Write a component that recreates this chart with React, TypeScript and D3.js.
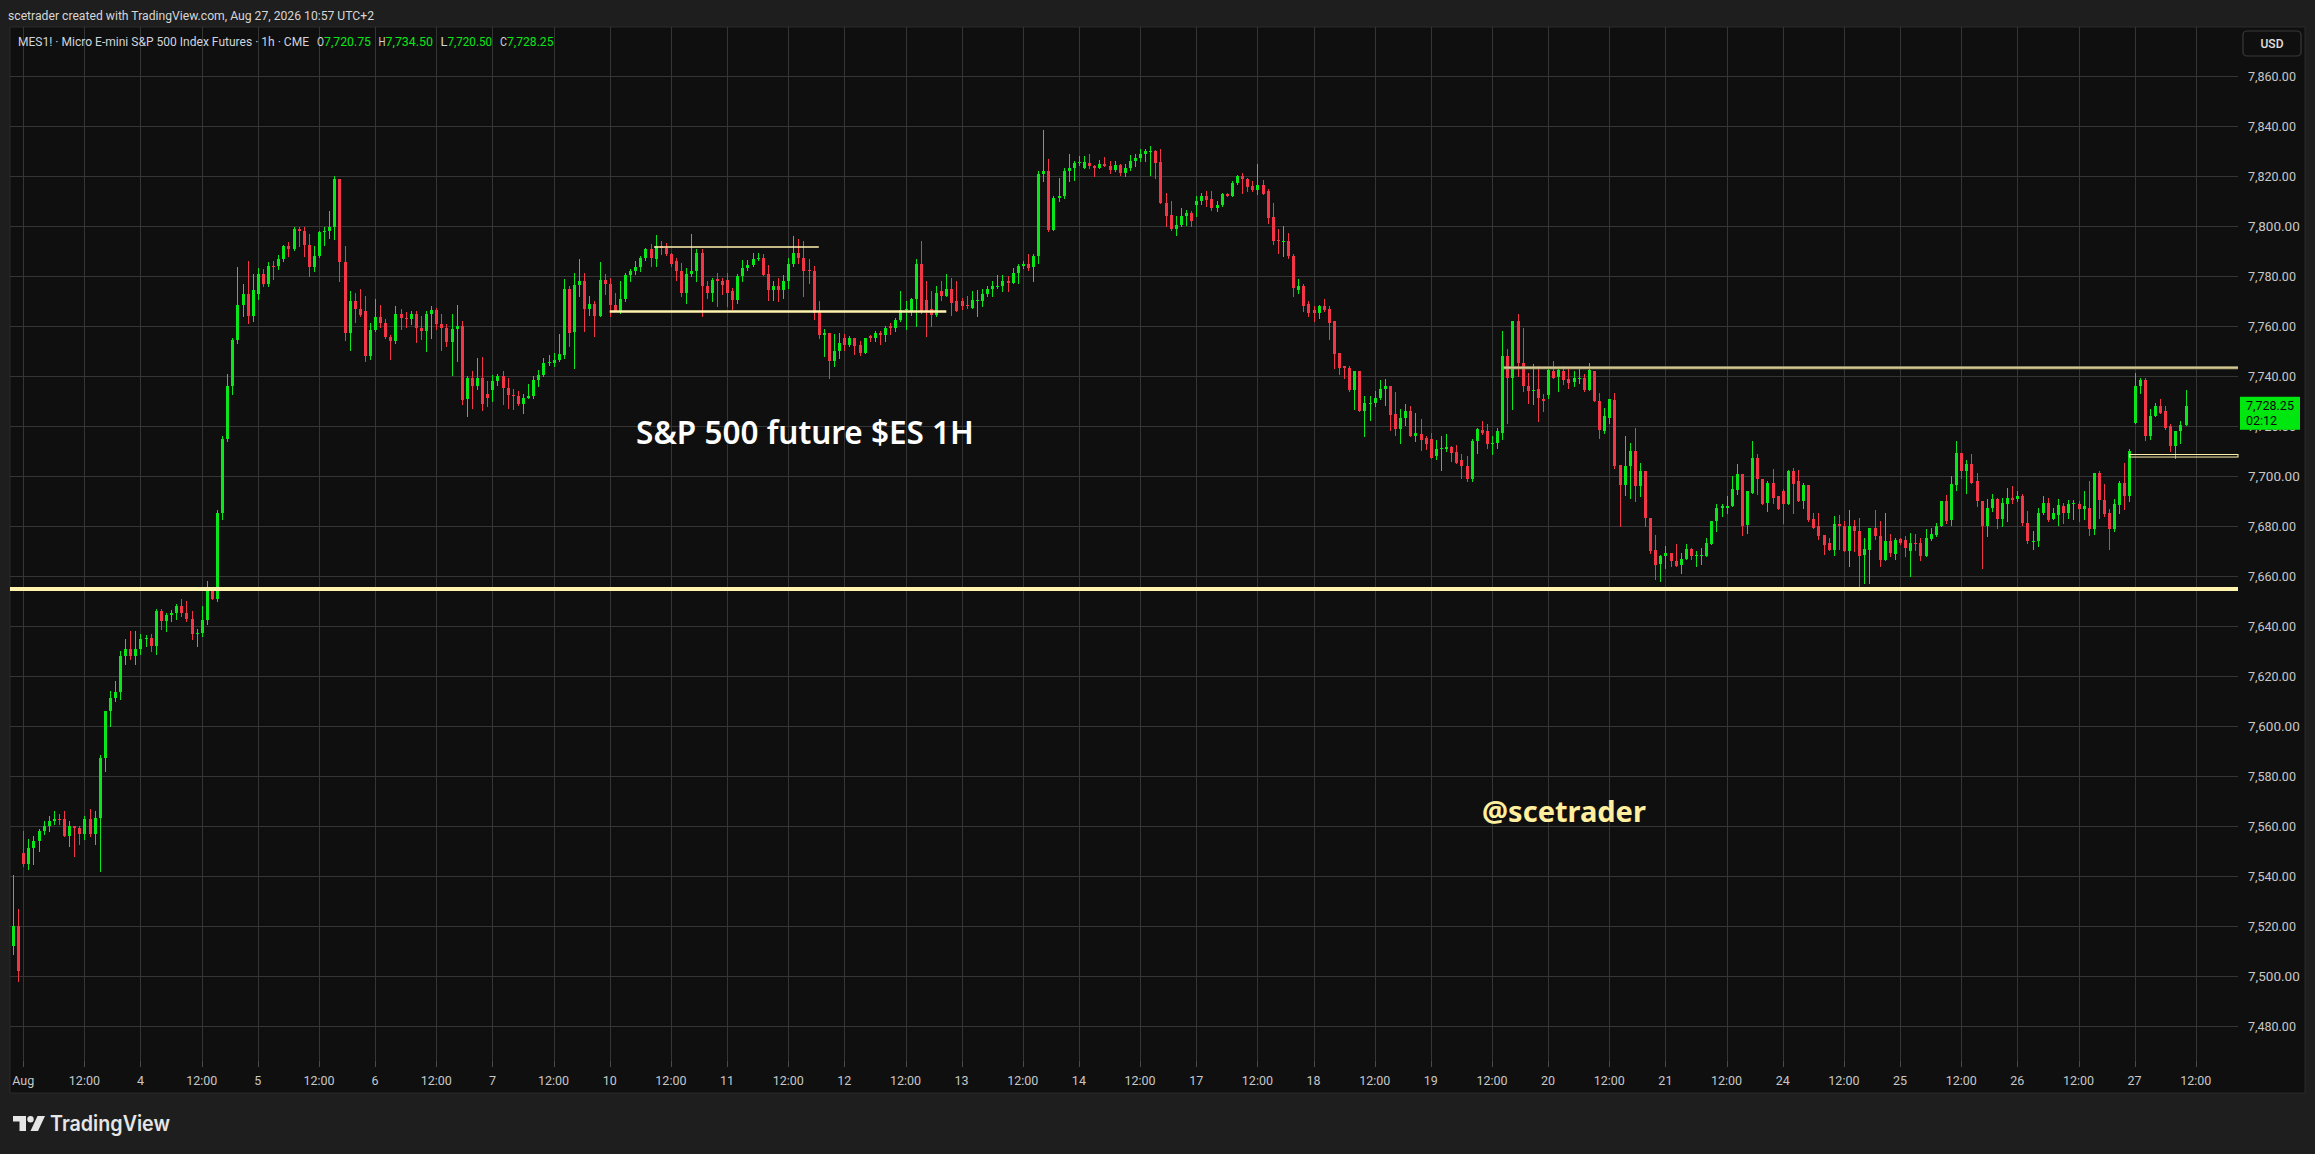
import React, { useEffect } from "react";
import * as d3 from "d3";

type Bar = [number, number, number, number]; // open, high, low, close

// ---- hourly OHLC (MES1!, 1h, UTC+2) ----
const jul31: Bar[] = [
  [7512, 7540.5, 7509, 7520], [7520, 7527, 7498, 7502],
];
const aug03: Bar[] = [
  [7549.5, 7558, 7544, 7545], [7545, 7555, 7543, 7551.5], [7551.5, 7556, 7545, 7554], [7554, 7559, 7550, 7558],
  [7558, 7562, 7557, 7560], [7560, 7564, 7558, 7562], [7562, 7566, 7561, 7563], [7563, 7565, 7561, 7562.5],
  [7563, 7566, 7556, 7556], [7556, 7562, 7552, 7560], [7560, 7560, 7548, 7559.5], [7559.5, 7560, 7553, 7557],
  [7557, 7564, 7555, 7563], [7563, 7567, 7556, 7557], [7557, 7566, 7553, 7563.5], [7563.5, 7588.5, 7542, 7587.5],
  [7587.5, 7606, 7582, 7606], [7606, 7614, 7600, 7611.5], [7611.5, 7618, 7610, 7613.75], [7613.75, 7630, 7611, 7628],
  [7628, 7635, 7625, 7631], [7631, 7638, 7627, 7628], [7628, 7638, 7625, 7631],
];
const aug04: Bar[] = [
  [7631, 7637, 7629, 7635], [7635, 7636.5, 7632, 7635.5], [7635.5, 7637, 7630, 7632], [7632, 7647, 7629, 7646],
  [7646, 7647, 7639, 7642], [7642, 7645.5, 7638, 7644.5], [7644.5, 7646.5, 7642, 7645.5], [7645.5, 7649, 7643, 7648],
  [7648, 7651, 7644, 7645.5], [7645.5, 7650, 7642, 7643], [7643, 7646, 7635, 7637], [7637, 7639, 7632, 7637.5],
  [7637.5, 7648, 7636, 7642.5], [7642.5, 7658, 7641, 7654], [7654, 7655.5, 7651, 7651], [7651, 7686.5, 7650, 7685.25],
  [7685.25, 7716, 7683, 7715], [7715, 7741, 7714, 7736], [7736, 7755.5, 7733, 7754.5], [7754.5, 7783.75, 7753.5, 7768.5],
  [7768.5, 7777, 7764, 7773], [7773, 7786, 7761.5, 7764], [7764, 7781, 7762, 7774.5],
];
const aug05: Bar[] = [
  [7773, 7783.5, 7771, 7781], [7781, 7783, 7776, 7777], [7777, 7785.75, 7776, 7784.25], [7784.25, 7786, 7779, 7784],
  [7784, 7788.75, 7783, 7787], [7787, 7792.75, 7786, 7792], [7792, 7793.75, 7788, 7791], [7791, 7799.75, 7790.5, 7799],
  [7799, 7799.75, 7792, 7798], [7798, 7799.75, 7788, 7792.75], [7792.75, 7797, 7780, 7783.75], [7783.75, 7792.25, 7782, 7788.25],
  [7788.25, 7798.25, 7787.75, 7797.75], [7797.75, 7799.75, 7792.5, 7798.25], [7798.25, 7806, 7795.5, 7799.75], [7799.75, 7820.25, 7795, 7819],
  [7819, 7819, 7778, 7785.75], [7785.75, 7792, 7754.5, 7757.5], [7757.5, 7774, 7750.75, 7770], [7770, 7773.25, 7761.75, 7767],
  [7767, 7775, 7764, 7764.75], [7766, 7772, 7746, 7748], [7748, 7761.5, 7747, 7758.5],
];
const aug06: Bar[] = [
  [7758.5, 7771, 7758, 7763.75], [7763.75, 7768.5, 7759.75, 7761.5], [7761.5, 7763, 7755.5, 7755.75], [7755.75, 7756.75, 7747, 7754],
  [7754, 7768, 7753.5, 7765], [7765, 7767, 7759, 7763.25], [7763.25, 7765.75, 7759.75, 7763], [7763, 7766, 7761, 7765],
  [7765, 7766, 7753.75, 7759.5], [7759.5, 7764, 7755, 7758], [7758, 7766, 7750, 7765], [7765, 7768, 7755.5, 7766.5],
  [7766.5, 7767.5, 7759, 7761], [7761, 7765, 7750.5, 7759.5], [7759.5, 7761, 7752, 7753.75], [7753.75, 7765, 7740.75, 7759],
  [7759, 7768.5, 7746, 7760], [7760, 7762, 7729, 7730.5], [7731, 7740, 7724, 7739.5], [7739.5, 7742, 7727.5, 7736],
  [7736, 7747.5, 7735, 7739.5], [7739.5, 7747.75, 7726.75, 7729], [7733, 7738, 7728, 7731.5],
];
const aug07: Bar[] = [
  [7734.75, 7740.5, 7730, 7738], [7738, 7741, 7736.75, 7740], [7740, 7742.25, 7729, 7735.5], [7735.5, 7739.25, 7727.25, 7732.75],
  [7732.75, 7735, 7727, 7732], [7732, 7734, 7728.5, 7729], [7729, 7733, 7725.5, 7731.5], [7731.5, 7737, 7731.5, 7732],
  [7732, 7740, 7731.5, 7738.5], [7738.5, 7742.75, 7736, 7740.5], [7740.5, 7747.5, 7740, 7745.5], [7745.5, 7748.75, 7744.75, 7745.75],
  [7745.5, 7749.5, 7744.25, 7746.75], [7746.5, 7757, 7746, 7749], [7748.5, 7779, 7747.5, 7775], [7775, 7776.25, 7752, 7757.25],
  [7757.75, 7781.25, 7743.5, 7776.5], [7776.5, 7787, 7772, 7778], [7778, 7781.25, 7758, 7767], [7767, 7772, 7764.75, 7769],
  [7769, 7770, 7756.25, 7764.25], [7764.25, 7785.75, 7764, 7778.5], [7778.5, 7781, 7773, 7777],
];
const aug10: Bar[] = [
  [7777, 7779.5, 7764, 7768.75], [7768.75, 7773.5, 7766.25, 7766.25], [7766.25, 7778, 7765.5, 7771], [7771, 7781.5, 7770, 7780.75],
  [7780.75, 7783, 7778, 7782], [7782, 7786, 7781, 7783.75], [7783.75, 7788.25, 7782.25, 7787.25], [7787.25, 7791.5, 7786.75, 7791],
  [7791, 7793, 7784.25, 7787.25], [7787, 7796.5, 7784, 7792], [7792, 7794.25, 7789, 7791.5], [7791.5, 7793.5, 7788.5, 7789],
  [7789, 7789.5, 7784.25, 7785], [7786, 7787.5, 7778.75, 7782], [7782, 7785.5, 7772, 7773.5], [7773.5, 7783.25, 7769.25, 7781],
  [7781, 7797, 7780.25, 7782], [7782, 7791, 7778.25, 7789.5], [7789.5, 7791, 7764, 7776], [7776, 7778.25, 7771.5, 7773.5],
  [7773.5, 7779.5, 7770, 7778.5], [7779, 7781.25, 7768, 7778], [7778, 7779.25, 7773, 7776.75],
];
const aug11: Bar[] = [
  [7778.5, 7781.25, 7768.25, 7773.25], [7774, 7775.25, 7767, 7770.75], [7770.5, 7781, 7769.5, 7780], [7780, 7786.5, 7778.25, 7783.25],
  [7783.25, 7786.75, 7782.5, 7784.75], [7784.75, 7789.25, 7784.25, 7787], [7787, 7789.5, 7786.5, 7787.25], [7787.25, 7789, 7780.75, 7780.75],
  [7781, 7784.5, 7770.75, 7774.5], [7774.5, 7778.25, 7770.75, 7776], [7776, 7779.25, 7770.25, 7774.5], [7774.5, 7780.5, 7771.25, 7778],
  [7778, 7787.5, 7775.25, 7785], [7785, 7796.25, 7784.25, 7789.25], [7789.25, 7795, 7785.25, 7787.25], [7787.5, 7794, 7772, 7782],
  [7782.5, 7787, 7777.5, 7782], [7782, 7784.25, 7763, 7765.5], [7766, 7770, 7755.5, 7756.5], [7756.5, 7759, 7748, 7757.5],
  [7757.5, 7757.5, 7739.5, 7746], [7746, 7757, 7744, 7750], [7750, 7757.5, 7747.25, 7753.25],
];
const aug12: Bar[] = [
  [7755.5, 7757, 7750.75, 7752.75], [7752.75, 7756.25, 7752, 7755.5], [7755.25, 7755.5, 7749, 7752], [7752.5, 7754.25, 7748.75, 7749.25],
  [7749.25, 7755.5, 7749.25, 7755.5], [7756, 7756.5, 7754, 7755.25], [7755.25, 7758.25, 7754.25, 7757.5], [7757.5, 7758, 7753, 7756.5],
  [7756.5, 7760.25, 7754.25, 7759.5], [7760, 7761.5, 7757, 7759.25], [7759.25, 7763.5, 7758.25, 7762.75], [7762.75, 7774, 7762, 7766.5],
  [7766.5, 7770.25, 7759, 7767], [7766, 7771.5, 7764.75, 7771], [7771, 7787, 7760.25, 7785], [7785, 7794, 7765.5, 7766],
  [7770.5, 7778, 7756.25, 7766], [7767, 7774.25, 7760.25, 7764.5], [7764.5, 7776, 7764.25, 7773.5], [7774, 7778, 7770.5, 7772.25],
  [7772.25, 7781, 7772.25, 7775], [7775, 7779.25, 7764.75, 7769.5], [7770, 7778.25, 7766.25, 7766.25],
];
const aug13: Bar[] = [
  [7770, 7771.25, 7767, 7768.25], [7768.75, 7772, 7767.25, 7768.5], [7767.5, 7774, 7767.5, 7770.5], [7770, 7774.75, 7764.25, 7770.5],
  [7770, 7775, 7768.25, 7773], [7773, 7776, 7772, 7775], [7775, 7778, 7772, 7776], [7776, 7780.5, 7775.25, 7776.25],
  [7776, 7780.5, 7774, 7778.25], [7778.25, 7780.25, 7774, 7777.5], [7777.5, 7783.25, 7777.5, 7781.25], [7781.25, 7785, 7777.5, 7784.25],
  [7784.25, 7786, 7783.25, 7785], [7785, 7789, 7782.75, 7783.25], [7783.75, 7789, 7778.25, 7788.25], [7788.25, 7822, 7785.5, 7821],
  [7821, 7838.5, 7818.25, 7822.25], [7822.25, 7827, 7798, 7798.5], [7798.5, 7812, 7798.5, 7811.5], [7811.5, 7819.25, 7810.25, 7812],
  [7812, 7823.5, 7811.5, 7822.25], [7822.25, 7829, 7818.25, 7823.25], [7823.25, 7826.25, 7818.75, 7825.5],
];
const aug14: Bar[] = [
  [7825.5, 7828, 7824.5, 7825.75], [7823.5, 7828.25, 7823.25, 7825.75], [7825.5, 7829, 7823.25, 7824], [7824, 7824.5, 7820.25, 7823.5],
  [7823.5, 7826.75, 7823.5, 7825], [7825, 7827.75, 7824, 7824], [7824, 7826, 7821.5, 7822.75], [7822.75, 7826, 7822, 7824.5],
  [7824.5, 7825, 7820.75, 7821.25], [7821.25, 7825, 7820.25, 7823.5], [7823.5, 7828.5, 7822.75, 7826], [7826, 7829, 7824.25, 7827.5],
  [7827.5, 7831, 7826, 7829], [7829, 7831, 7826.25, 7830], [7830, 7832.25, 7820.5, 7830.25], [7830.25, 7830.5, 7819.5, 7825.5],
  [7825.75, 7831, 7809.25, 7809.25], [7809.5, 7813.5, 7800.25, 7804.25], [7804.5, 7810, 7798.75, 7799], [7799, 7804, 7796.5, 7800.5],
  [7800.5, 7807.5, 7800, 7804], [7804, 7806.75, 7800.5, 7805.5], [7805.25, 7806, 7800.25, 7802],
];
const aug17: Bar[] = [
  [7808.5, 7812, 7804.25, 7810], [7810, 7813.5, 7809, 7812], [7812, 7814, 7808.25, 7810.5], [7811, 7814.25, 7806.75, 7807.25],
  [7807.25, 7810.25, 7806, 7808.5], [7808.5, 7813.25, 7808, 7813], [7813, 7813.5, 7812, 7812], [7812, 7818, 7812, 7817.5],
  [7817.5, 7820.75, 7817, 7820], [7820, 7821.25, 7813.25, 7819], [7819, 7819.5, 7814, 7815.75], [7816, 7818, 7814, 7814.5],
  [7814.5, 7825, 7813, 7816.5], [7816.5, 7818.5, 7813, 7813], [7814, 7815, 7801.25, 7803.5], [7803.75, 7809.5, 7793, 7794],
  [7794.5, 7799, 7789.25, 7794], [7794, 7800, 7788.25, 7794.25], [7794.25, 7797.5, 7787.5, 7788], [7788, 7789, 7772.25, 7775.25],
  [7774.75, 7779, 7773.25, 7776.25], [7776.25, 7777, 7766.25, 7768.25], [7769, 7770.25, 7764, 7765.25],
];
const aug18: Bar[] = [
  [7766.75, 7768.25, 7762.25, 7765.25], [7765.25, 7768.5, 7763.25, 7768.25], [7768, 7771, 7766.25, 7766.75], [7767, 7768, 7755, 7761.5],
  [7762, 7762.25, 7743.5, 7749], [7749.25, 7749.5, 7741, 7743.5], [7744, 7744, 7739.25, 7743.25], [7743.5, 7744, 7734.25, 7734.75],
  [7734.75, 7742.25, 7727, 7742], [7742, 7742, 7726, 7726], [7726.25, 7732, 7716.25, 7729.5], [7729.5, 7732, 7722.5, 7729.5],
  [7729.5, 7734.25, 7728.25, 7731.5], [7731.5, 7738.5, 7731, 7735], [7735, 7739, 7728.5, 7736], [7736, 7736.25, 7718.75, 7724.5],
  [7725, 7733.75, 7716.75, 7719], [7719, 7727, 7713.5, 7723.25], [7723.25, 7729, 7720.75, 7726.25], [7726.25, 7728, 7716, 7716],
  [7716, 7725.5, 7714.25, 7717.25], [7717, 7723, 7710.5, 7714.5], [7715.25, 7716.25, 7711, 7713],
];
const aug19: Bar[] = [
  [7715, 7717.25, 7707.25, 7707.25], [7708, 7714.75, 7707, 7711], [7711, 7716, 7702.5, 7711.25], [7711, 7717, 7710.25, 7711.75],
  [7711.75, 7712, 7706.25, 7709.5], [7709.75, 7712.5, 7705.5, 7705.5], [7706.75, 7709, 7699.5, 7704], [7704.25, 7708, 7698.25, 7699],
  [7699, 7715, 7698.25, 7714.25], [7714.25, 7719.25, 7709.25, 7719], [7718.5, 7722, 7717, 7717.5], [7718.25, 7721, 7711.25, 7713],
  [7713, 7716, 7709, 7713.5], [7713.5, 7719.5, 7711.25, 7718], [7717.25, 7758.25, 7715, 7748.25], [7748.25, 7751, 7721.25, 7739.5],
  [7739.5, 7762.25, 7727, 7762.25], [7762, 7765, 7740.25, 7745.5], [7745.5, 7759.5, 7734.25, 7736], [7736.25, 7741.25, 7729.25, 7734.25],
  [7734.5, 7745, 7729, 7734.75], [7735, 7744, 7722, 7731.25], [7731, 7733, 7726.25, 7730.25],
];
const aug20: Bar[] = [
  [7732.5, 7743.5, 7731.5, 7742.75], [7742.25, 7746, 7739.25, 7739.5], [7739.75, 7743, 7734.25, 7742.75], [7742.25, 7744, 7737, 7738.5],
  [7739, 7743.25, 7735.5, 7737.5], [7737.75, 7742, 7736.25, 7739.25], [7739, 7743, 7737.5, 7739.25], [7739.25, 7741, 7734.25, 7734.5],
  [7734.5, 7745.25, 7734.5, 7742.75], [7742, 7742, 7730, 7730], [7730, 7733.5, 7715.5, 7718.75], [7718.25, 7727.25, 7717.5, 7724],
  [7723.25, 7731, 7721.5, 7731], [7730.5, 7733.25, 7703.25, 7704], [7704.5, 7704.5, 7680.25, 7696.75], [7696.75, 7716.25, 7692.75, 7704],
  [7704, 7713.25, 7691.25, 7710.25], [7710.25, 7719.5, 7690.25, 7696.25], [7696.25, 7705.25, 7692, 7702], [7702, 7702, 7680.25, 7683.5],
  [7683.25, 7683.5, 7669.25, 7670], [7670.5, 7676.5, 7659, 7664.75], [7665, 7668.5, 7658, 7668.25],
];
const aug21: Bar[] = [
  [7668.25, 7672.25, 7663.25, 7669.25], [7669.25, 7669.25, 7664.25, 7666], [7666.25, 7673, 7664.25, 7664.25], [7664.75, 7669.25, 7661.25, 7667],
  [7667, 7673, 7667, 7671], [7671, 7671.5, 7667, 7668], [7668, 7670.25, 7664.25, 7668.5], [7668.75, 7671.25, 7665, 7668.75],
  [7668, 7675.25, 7668, 7673.25], [7673, 7682.25, 7673, 7682], [7682, 7689, 7678, 7687.5], [7687.5, 7689, 7684.25, 7688],
  [7687.5, 7692, 7685.5, 7688.25], [7688, 7700, 7688, 7695], [7694.75, 7705, 7693, 7701], [7701, 7701, 7676.75, 7680.25],
  [7680.5, 7694, 7677.5, 7694], [7693.5, 7714, 7693.5, 7707.25], [7707.25, 7709, 7693, 7699], [7699, 7699, 7689, 7689],
  [7689.25, 7698, 7686, 7697.5], [7697.25, 7703, 7689.25, 7691.25], [7692, 7692.25, 7687, 7687],
];
const aug24: Bar[] = [
  [7694, 7695, 7681.5, 7689], [7689, 7702.5, 7689, 7702.25], [7702.25, 7703.25, 7685.5, 7697], [7698, 7702.5, 7690.25, 7690.25],
  [7690.25, 7697.5, 7687.25, 7696.5], [7696.5, 7696.5, 7682.25, 7682.5], [7683, 7685.25, 7679.25, 7679.25], [7680, 7685.25, 7675, 7676],
  [7676.5, 7676.5, 7669, 7672.75], [7673.25, 7675.5, 7670.75, 7670.75], [7670.75, 7684, 7668.5, 7681], [7681, 7684.5, 7671, 7680],
  [7680, 7682.25, 7670, 7670], [7670, 7686.75, 7664.25, 7680.25], [7680, 7682.75, 7670, 7678], [7678, 7683.5, 7655, 7668.25],
  [7668.5, 7675.5, 7657.5, 7671], [7670.75, 7679.5, 7657.5, 7679.5], [7679.25, 7686.75, 7675, 7676], [7676, 7682.25, 7664.25, 7666.75],
  [7666.75, 7685.25, 7666.75, 7674], [7674, 7677, 7668.25, 7669.5], [7669, 7675.25, 7667, 7674.75],
];
const aug25: Bar[] = [
  [7675, 7675.5, 7673, 7673.5], [7674.5, 7676, 7668, 7671.25], [7670.25, 7677.5, 7660.25, 7673.5], [7673.5, 7677, 7670.75, 7673],
  [7673.25, 7675.25, 7666.75, 7668], [7668, 7679, 7668, 7675.25], [7675, 7679.25, 7674.75, 7677], [7676.5, 7681.25, 7676.25, 7680],
  [7680, 7690, 7680, 7690], [7690, 7692.5, 7681.25, 7682.25], [7682.5, 7700, 7680.75, 7697], [7696.75, 7714, 7694.75, 7709.25],
  [7709.25, 7709.5, 7699.5, 7702], [7702, 7706.5, 7693.25, 7705], [7705, 7709, 7697.25, 7697.25], [7698, 7701.25, 7688.25, 7690],
  [7690.25, 7690.25, 7663.25, 7680], [7680, 7691, 7676.25, 7687.5], [7687.5, 7693, 7686, 7691], [7691, 7691.5, 7679.25, 7683],
  [7683, 7691.25, 7680.25, 7689.25], [7689, 7695.25, 7682, 7691.25], [7691.25, 7696.25, 7689.25, 7690.5],
];
const aug26: Bar[] = [
  [7691, 7694, 7690.25, 7692.25], [7692.25, 7693, 7680.75, 7681.25], [7681.5, 7686, 7673.5, 7674], [7674, 7678.25, 7671, 7674.25],
  [7674, 7687.25, 7672.25, 7685.5], [7685.25, 7692.25, 7685, 7689.5], [7689.5, 7691.25, 7682.25, 7682.5], [7683, 7687.5, 7683, 7685.25],
  [7684.5, 7691, 7680.75, 7688.5], [7688.25, 7689.25, 7681.25, 7685.25], [7685.5, 7690.5, 7683.25, 7689], [7689, 7690.5, 7683, 7689.5],
  [7689, 7690.25, 7682, 7687], [7687, 7694.25, 7683, 7688], [7687.5, 7698.25, 7676.5, 7679], [7679, 7701.5, 7677, 7701.25],
  [7701.25, 7702.25, 7683.5, 7690.5], [7690.5, 7697, 7684.25, 7685], [7685.25, 7687, 7671, 7679], [7679, 7691, 7678, 7689],
  [7688.75, 7698.25, 7685.5, 7697.25], [7697.25, 7705.25, 7687, 7692], [7692, 7711, 7690.25, 7710],
];
const aug27: Bar[] = [
  [7721.5, 7741.25, 7721.25, 7736], [7736, 7739.25, 7733.25, 7738.75], [7738.75, 7739.25, 7714.75, 7716], [7716, 7727, 7715, 7724.25],
  [7724.25, 7729.5, 7724, 7728.25], [7728.25, 7731, 7725.25, 7725.5], [7726.25, 7728, 7719, 7719.25], [7720.25, 7721, 7710.25, 7712],
  [7712, 7718, 7707.25, 7718], [7718, 7722, 7713.5, 7720.5], [7720.75, 7734.5, 7720.5, 7728.25],
];

const sessions: Bar[][] = [aug03, aug04, aug05, aug06, aug07, aug10, aug11, aug12, aug13, aug14,
  aug17, aug18, aug19, aug20, aug21, aug24, aug25, aug26, aug27];
const dayLabels = ["Aug", "4", "5", "6", "7", "10", "11", "12", "13", "14", "17", "18", "19", "20", "21", "24", "25", "26", "27"];
const priceTicks = [7480, 7500, 7520, 7540, 7560, 7580, 7600, 7620, 7640, 7660, 7680, 7700, 7720, 7740, 7760, 7780, 7800, 7820, 7840, 7860];

// drawn levels: price, from bar, to bar (null = right edge)
const supportLevel = 7655;
const rangeTop: [number, number, number] = [7791.75, 125.7, 158];
const rangeBottom: [number, number, number] = [7766, 117, 183];
const resistanceLevel: [number, number] = [7743.5, 292.3];
const lastBox: [number, number, number] = [7708.75, 7707.75, 415];

const headerText = "scetrader created with TradingView.com, Aug 27, 2026 10:57 UTC+2";
const symbolText = "MES1! · Micro E-mini S&P 500 Index Futures · 1h · CME";
const countdown = "02:12";
const titleText = "S&P 500 future $ES 1H";
const signature = "@scetrader";

const bars: Bar[] = [...jul31, ...sessions.flat()];

const W = 2315, H = 1154;
const paneL = 10, paneR = 2305, paneT = 27, paneB = 1093;
const plotR = 2238, plotB = 1061;
const STEP = 5.1;
const GREEN = "#0ae61a";
const RED = "#f23645";
const GRID = "#353535";
const YEL = "#fff3ad";
const FONT = "Roboto, 'Noto Sans', sans-serif";

const x = d3.scaleLinear().domain([0, bars.length - 1]).range([13, 13 + (bars.length - 1) * STEP]);
const y = d3.scaleLinear().domain([7480, 7860]).range([1026.4, 76.4]);
const fmt = d3.format(",.2f");

const timeTicks: { i: number; label: string; day: boolean }[] = [];
{
  let start = jul31.length;
  sessions.forEach((s, k) => {
    timeTicks.push({ i: start, label: dayLabels[k], day: true });
    timeTicks.push({ i: start + 12, label: "12:00", day: false });
    start += 23;
  });
}

export default function App() {
  useEffect(() => {
    document.body.style.margin = "0";
    document.body.style.background = "#1e1e1e";
  }, []);

  const last = bars[bars.length - 1];
  const legendVals: [string, number, number, number][] = [
    ["O", last[0], 317, 371], ["H", last[1], 378.5, 433], ["L", last[2], 440.5, 492], ["C", last[3], 500, 553.5],
  ];
  const tagY = y(last[3]);

  return (
    <svg width={W} height={H} style={{ position: "absolute", left: 0, top: 0, display: "block" }} fontFamily={FONT}>
      <rect x={0} y={0} width={W} height={H} fill="#1e1e1e" />
      <rect x={paneL} y={paneT} width={paneR - paneL} height={paneB - paneT} fill="#0f0f0f" stroke="#2a2a2a" strokeWidth={1} />

      {/* grid */}
      <g shapeRendering="crispEdges">
        {priceTicks.map((p) => (
          <line key={"h" + p} x1={paneL} x2={plotR} y1={Math.round(y(p)) + 0.5} y2={Math.round(y(p)) + 0.5} stroke={GRID} />
        ))}
        {timeTicks.map((t) => (
          <line key={"v" + t.i} x1={Math.round(x(t.i)) + 0.5} x2={Math.round(x(t.i)) + 0.5} y1={paneT} y2={plotB} stroke={GRID} />
        ))}
      </g>

      {/* candles */}
      <g shapeRendering="crispEdges">
        {bars.map((b, i) => {
          const [o, h, l, c] = b;
          const col = c >= o ? GREEN : RED;
          const cx = Math.round(x(i));
          const yHi = y(Math.max(h, o, c));
          const yLo = y(Math.min(l, o, c));
          const bt = Math.round(y(Math.max(o, c)));
          const bb = Math.round(y(Math.min(o, c)));
          return (
            <g key={i}>
              <line x1={cx + 0.5} x2={cx + 0.5} y1={Math.round(yHi)} y2={Math.round(yLo) + 1} stroke={col} />
              <rect x={cx - 1} y={bt} width={3} height={Math.max(1, bb - bt)} fill={col} />
            </g>
          );
        })}
      </g>

      {/* drawings */}
      <g>
        <line x1={paneL} x2={plotR} y1={y(supportLevel)} y2={y(supportLevel)} stroke={YEL} strokeWidth={4} />
        <line x1={x(rangeTop[1])} x2={x(rangeTop[2])} y1={y(rangeTop[0])} y2={y(rangeTop[0])} stroke={YEL} strokeWidth={1.5} />
        <line x1={x(rangeBottom[1])} x2={x(rangeBottom[2])} y1={y(rangeBottom[0])} y2={y(rangeBottom[0])} stroke={YEL} strokeWidth={2.5} />
        <line x1={x(resistanceLevel[1])} x2={plotR} y1={y(resistanceLevel[0])} y2={y(resistanceLevel[0])} stroke="#b3a978" strokeWidth={3} />
        <line x1={x(resistanceLevel[1])} x2={plotR} y1={y(resistanceLevel[0])} y2={y(resistanceLevel[0])} stroke="#d8cd98" strokeWidth={1} />
        <rect x={x(lastBox[2])} y={y(lastBox[0])} width={plotR - x(lastBox[2])} height={y(lastBox[1]) - y(lastBox[0])}
          fill="none" stroke={YEL} strokeWidth={1} />
      </g>

      {/* annotations */}
      <text x={805} y={444} textAnchor="middle" fill="#ffffff" fontSize={31.5} fontWeight={600} fontFamily="'Noto Sans', sans-serif">{titleText}</text>
      <text x={1564} y={822} textAnchor="middle" fill="#ffef9e" fontSize={29} fontWeight={700} fontFamily="'Noto Sans', sans-serif">{signature}</text>

      {/* header + legend */}
      <text x={8} y={20} fill="#d6d6d6" fontSize={12.5} textLength={366} lengthAdjust="spacingAndGlyphs">{headerText}</text>
      <text x={18} y={46} fill="#d1d4dc" fontSize={12.5} textLength={291} lengthAdjust="spacingAndGlyphs">{symbolText}</text>
      {legendVals.map(([k, v, x0, x1]) => (
        <g key={k}>
          <text x={x0} y={46} fill="#d1d4dc" fontSize={12.5} textLength={7} lengthAdjust="spacingAndGlyphs">{k}</text>
          <text x={x0 + 7} y={46} fill={GREEN} fontSize={12.5} textLength={x1 - x0 - 7} lengthAdjust="spacingAndGlyphs">{fmt(v)}</text>
        </g>
      ))}

      {/* price axis */}
      <rect x={2243} y={31} width={58} height={25} rx={4} fill="#0f0f0f" stroke="#3a3a3a" strokeWidth={1.2} />
      <text x={2272} y={47.5} textAnchor="middle" fill="#e0e0e0" fontSize={12} fontWeight={500}>USD</text>
      {priceTicks.map((p) => (
        <text key={"pl" + p} x={2248} y={y(p)} dy="0.36em" fill="#c8c8c8" fontSize={p % 100 === 0 ? 13.5 : 12.5}>
          {fmt(p)}
        </text>
      ))}
      <rect x={2240} y={tagY - 9} width={60} height={33} fill="#00e60f" />
      <text x={2246} y={tagY} dy="0.36em" fill="#0a0a0a" fontSize={12.5}>{fmt(last[3])}</text>
      <text x={2246} y={tagY + 15} dy="0.36em" fill="#0a0a0a" fontSize={12.5}>{countdown}</text>

      {/* time axis */}
      <g shapeRendering="crispEdges">
        {timeTicks.map((t) => (
          <line key={"tk" + t.i} x1={Math.round(x(t.i)) + 0.5} x2={Math.round(x(t.i)) + 0.5} y1={plotB} y2={plotB + 6} stroke="#4a4a4a" />
        ))}
      </g>
      {timeTicks.map((t) => (
        <text key={"tl" + t.i} x={x(t.i)} y={1080} dy="0.36em" textAnchor="middle" fill="#c8c8c8" fontSize={12.5}>
          {t.label}
        </text>
      ))}

      {/* logo */}
      <g transform="translate(13,1116)" fill="#e6e6e6">
        <path d="M0 0 H13 V15 H6.5 V5.5 H0 Z" />
        <circle cx={17.5} cy={3.2} r={3.2} />
        <path d="M24.5 0 H32 L25 15 H17.5 Z" />
      </g>
      <text x={50} y={1131} fill="#e6e6e6" fontSize={21} fontWeight={600} fontFamily="Inter, 'Noto Sans', sans-serif" textLength={120} lengthAdjust="spacingAndGlyphs">TradingView</text>
    </svg>
  );
}
